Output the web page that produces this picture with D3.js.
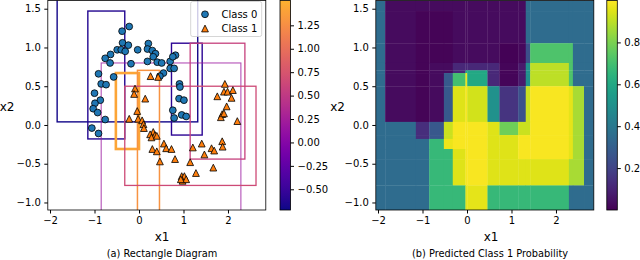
<!DOCTYPE html>
<html>
<head>
<meta charset="utf-8">
<script src="https://cdn.jsdelivr.net/npm/d3@7"></script>
<style>
  body { margin: 0; background: #fff; }
  svg text { font-family: "DejaVu Sans", sans-serif; fill: #000; }
</style>
</head>
<body>
<div id="chart"></div>
<script>
// scatter points
var class0X = [-0.22, -0.38, -0.37, -0.49, -0.40, -0.31, -0.24, -0.64, -0.76, -0.65, -0.03, 0.21, 0.19, 0.30, 0.37,
               0.19, -0.18, -0.91, -0.57, -0.85, -0.74, -1.00, -0.87, -0.99, -1.03, -0.93, -0.76, -1.06, -0.91,
               0.32, 0.41, 0.51, 0.70, 0.82, 0.76, 0.70, 0.79, 0.55, 0.47, 0.91, 0.92, 0.90, 1.01, 0.76, 0.96, 1.06, 0.79];
var class0Y = [1.27, 1.21, 1.06, 0.97, 0.97, 0.95, 1.03, 0.91, 0.86, 0.80, 0.97, 1.05, 0.98, 0.96, 0.92,
               0.82, 0.79, 0.66, 0.62, 0.53, 0.52, 0.41, 0.32, 0.28, 0.21, 0.16, 0.07, -0.04, -0.11,
               0.88, 0.81, 0.80, 0.82, 0.90, 0.88, 0.73, 0.73, 0.67, 0.63, 0.53, 0.49, 0.34, 0.32, 0.19, 0.13, 0.11, 0.09];
var class1X = [0.26, 0.43, -0.09, -0.11, 0.14, -0.22, -0.02, 0.07, 0.10, 0.11, 0.32, 0.25, 0.36, 0.28, 0.40, 0.30,
               0.40, 0.47, 0.56, 0.61, 0.73, 0.81, 1.15, 1.28, 1.21, 1.41, 1.47, 1.63, 1.69, 1.87, 1.88, 1.67,
               0.96, 1.02, 0.98, 1.06, 0.94, 1.93, 1.76, 1.91, 1.99, 2.11, 2.08, 1.97, 1.87, 1.84, 1.91, 2.21, -0.04];
var class1Y = [0.63, 0.62, 0.47, 0.40, 0.34, 0.08, 0.08, 0.06, 0.01, -0.04, -0.09, -0.12, -0.13, -0.16, -0.14, -0.31,
               -0.34, -0.47, -0.24, -0.30, -0.31, -0.44, -0.48, -0.62, -0.29, -0.24, -0.38, -0.30, -0.33, -0.21, -0.28, -0.55,
               -0.66, -0.66, -0.72, -0.70, -0.70, 0.53, 0.37, 0.43, 0.43, 0.45, 0.35, 0.24, 0.14, 0.10, 0.15, 0.05, 0.18];

// rectangles of the left panel (data coords) and their colour value
var rectNames = ["A", "B", "N", "L", "O", "K", "P", "Q"];
var rectX0 = [-1.84, -1.15, 0.73, -0.85, -0.52, -0.035, -0.32, 1.15];
var rectX1 = [1.32, -0.32, 1.42, 2.29, 0.0, 0.46, 2.63, 2.38];
var rectY0 = [0.04, -0.18, -0.13, -1.3, -0.31, -1.3, -0.78, -0.44];
var rectY1 = [1.8, 1.47, 1.055, 0.80, 0.67, 0.705, 0.50, 1.055];
var rectValue = [-0.69, -0.63, -0.58, 0.17, 1.42, 1.28, 0.65, 0.57];

// probability map of the right panel: cell edges and values
var gridX = [-2.05, -1.84, -1.15, -0.85, -0.52, -0.32, -0.035, 0.005, 0.46, 0.73, 1.15, 1.32, 1.42, 2.29, 2.38, 2.63, 2.85];
var gridY = [1.606, 1.47, 1.055, 0.80, 0.705, 0.67, 0.50, 0.04, -0.13, -0.18, -0.31, -0.44, -0.78, -1.097];
var probGrid = [
  [.35,.03,.03,.03,.03,.03,.03,.03,.03,.03,.03,.35,.35,.35,.35,.35],
  [.35,.03,.01,.01,.01,.03,.03,.03,.03,.03,.03,.35,.35,.35,.35,.35],
  [.35,.03,.01,.01,.01,.03,.03,.03,.03,.005,.02,.24,.72,.72,.35,.35],
  [.35,.03,.01,.03,.03,.11,.11,.11,.11,.015,.07,.5,.9,.72,.35,.35],
  [.35,.03,.01,.03,.03,.11,.6,.6,.11,.015,.07,.5,.9,.72,.35,.35],
  [.35,.03,.01,.03,.28,.7,.97,.6,.11,.015,.07,.5,.9,.72,.35,.35],
  [.35,.03,.01,.03,.28,.95,.99,.93,.5,.15,.25,.92,.99,.96,.87,.35],
  [.35,.35,.13,.27,.92,.99,.99,.99,.95,.78,.92,.92,.99,.96,.87,.35],
  [.35,.35,.13,.27,.92,.99,.99,.99,.95,.95,.99,.99,.99,.96,.87,.35],
  [.35,.35,.35,.67,.97,.99,.99,.99,.95,.95,.99,.99,.99,.96,.87,.35],
  [.35,.35,.35,.67,.67,.95,.99,.99,.95,.95,.99,.99,.99,.96,.87,.35],
  [.35,.35,.35,.67,.67,.95,.99,.99,.95,.95,.95,.95,.95,.87,.87,.35],
  [.35,.35,.35,.67,.67,.67,.96,.96,.67,.67,.67,.67,.67,.35,.35,.35]
];

// ticks
var xTicks = [-2, -1, 0, 1, 2];
var yTicks = [-1.0, -0.5, 0.0, 0.5, 1.0, 1.5];
var plasmaTicks = [-0.5, -0.25, 0, 0.25, 0.5, 0.75, 1.0, 1.25];
var plasmaRange = [-0.721, 1.515];
var viridisTicks = [0.2, 0.4, 0.6, 0.8];

var W = 640, H = 260;
var plotTop = 0.5, plotBottom = 210;

var svg = d3.select("#chart").append("svg")
    .attr("width", W).attr("height", H);

var y = d3.scaleLinear().domain([-1.097, 1.606]).range([plotBottom, plotTop]);
var xL = d3.scaleLinear().domain([-2.05, 2.85]).range([47.8, 265.8]);
var xR = d3.scaleLinear().domain([-2.05, 2.85]).range([375.8, 593.8]);

// the rectangle colormap only runs up to the orange part of plasma
var plasmaCut = function (t) { return d3.interpolatePlasma(t * 0.83); };
var plasma = d3.scaleSequential(plasmaCut).domain(plasmaRange);
var viridis = d3.scaleSequential(d3.interpolateViridis).domain([0, 1]);

// style of each rectangle outline
var rectStyle = {
    A: { w: 1.4, o: 1 }, B: { w: 1.4, o: 1 }, N: { w: 1.4, o: 1 },
    L: { w: 1.1, o: 0.75 }, O: { w: 2.6, o: 1 }, K: { w: 1.5, o: 1 },
    P: { w: 1.3, o: 1 }, Q: { w: 1.3, o: 1 }
};

function addClip(id, x) {
    svg.append("clipPath").attr("id", id).append("rect")
        .attr("x", x.range()[0]).attr("y", plotTop)
        .attr("width", x.range()[1] - x.range()[0]).attr("height", plotBottom - plotTop);
}
addClip("clipL", xL);
addClip("clipR", xR);

function drawAxes(x, labelX, labelY2) {
    svg.append("g")
        .attr("transform", "translate(0," + plotBottom + ")")
        .call(d3.axisBottom(x).tickValues(xTicks).tickFormat(d3.format("d")).tickSize(3.5).tickPadding(3.5))
        .call(function (g) { g.select(".domain").remove(); })
        .attr("font-size", 10).attr("font-family", "DejaVu Sans");

    svg.append("g")
        .attr("transform", "translate(" + x.range()[0] + ",0)")
        .call(d3.axisLeft(y).tickValues(yTicks).tickFormat(d3.format(".1f")).tickSize(3.5).tickPadding(3.5))
        .call(function (g) { g.select(".domain").remove(); })
        .attr("font-size", 10).attr("font-family", "DejaVu Sans");

    // spines
    svg.append("rect")
        .attr("x", x.range()[0]).attr("y", plotTop)
        .attr("width", x.range()[1] - x.range()[0]).attr("height", plotBottom - plotTop)
        .attr("fill", "none").attr("stroke", "#000").attr("stroke-width", 0.8);

    svg.append("text").attr("x", labelX).attr("y", 241)
        .attr("text-anchor", "middle").attr("font-size", 12).text("x1");
    svg.append("text").attr("x", labelY2).attr("y", 111)
        .attr("text-anchor", "middle").attr("font-size", 12).text("x2");
}

function drawColorbar(x0, scale, interp, ticks, fmt, id) {
    var grad = svg.append("defs").append("linearGradient").attr("id", id)
        .attr("x1", 0).attr("y1", 1).attr("x2", 0).attr("y2", 0);
    d3.range(0, 1.0001, 0.05).forEach(function (t) {
        grad.append("stop").attr("offset", t).attr("stop-color", interp(t));
    });
    svg.append("rect").attr("x", x0).attr("y", plotTop)
        .attr("width", 10.5).attr("height", plotBottom - plotTop)
        .attr("fill", "url(#" + id + ")")
        .attr("stroke", "#000").attr("stroke-width", 0.8);
    svg.append("g")
        .attr("transform", "translate(" + (x0 + 10.5) + ",0)")
        .call(d3.axisRight(scale).tickValues(ticks).tickFormat(fmt).tickSize(3.5).tickPadding(3.5))
        .call(function (g) { g.select(".domain").remove(); })
        .attr("font-size", 10).attr("font-family", "DejaVu Sans");
}

// ---- left panel: rectangle diagram ----
var left = svg.append("g").attr("clip-path", "url(#clipL)");

left.selectAll(".box")
    .data(rectNames)
    .enter().append("rect")
    .attr("class", "box")
    .attr("x", function (d, i) { return xL(rectX0[i]); })
    .attr("y", function (d, i) { return y(rectY1[i]); })
    .attr("width", function (d, i) { return xL(rectX1[i]) - xL(rectX0[i]); })
    .attr("height", function (d, i) { return y(rectY0[i]) - y(rectY1[i]); })
    .attr("fill", "none")
    .attr("stroke", function (d, i) { return plasma(rectValue[i]); })
    .attr("stroke-width", function (d) { return rectStyle[d].w; })
    .attr("stroke-opacity", function (d) { return rectStyle[d].o; });

var tri = "M0,-3.4L3.4,3.4L-3.4,3.4Z";

left.selectAll(".c0")
    .data(class0X)
    .enter().append("circle")
    .attr("class", "c0")
    .attr("cx", function (d) { return xL(d); })
    .attr("cy", function (d, i) { return y(class0Y[i]); })
    .attr("r", 3.4)
    .attr("fill", "#1f77b4").attr("stroke", "#000").attr("stroke-width", 0.8);

left.selectAll(".c1")
    .data(class1X)
    .enter().append("path")
    .attr("class", "c1")
    .attr("d", tri)
    .attr("transform", function (d, i) { return "translate(" + xL(d) + "," + y(class1Y[i]) + ")"; })
    .attr("fill", "#ff7f0e").attr("stroke", "#000").attr("stroke-width", 0.8);

drawAxes(xL, 162, 7);

// legend
var lg = svg.append("g");
lg.append("rect").attr("x", 190.7).attr("y", 1.5).attr("width", 71).attr("height", 35)
    .attr("rx", 2).attr("fill", "#fff").attr("fill-opacity", 0.8)
    .attr("stroke", "#ccc").attr("stroke-width", 0.8);
lg.append("circle").attr("cx", 205).attr("cy", 14.3).attr("r", 3.4)
    .attr("fill", "#1f77b4").attr("stroke", "#000").attr("stroke-width", 0.8);
lg.append("path").attr("d", tri).attr("transform", "translate(205,28.5)")
    .attr("fill", "#ff7f0e").attr("stroke", "#000").attr("stroke-width", 0.8);
lg.append("text").attr("x", 221.5).attr("y", 17.8).attr("font-size", 10).text("Class 0");
lg.append("text").attr("x", 221.5).attr("y", 32).attr("font-size", 10).text("Class 1");

drawColorbar(280, d3.scaleLinear().domain(plasmaRange).range([plotBottom, plotTop]),
    plasmaCut, plasmaTicks, d3.format(".2f"), "gradPlasma");

// ---- right panel: predicted probability ----
var right = svg.append("g").attr("clip-path", "url(#clipR)");
var cells = [];
probGrid.forEach(function (row, i) {
    row.forEach(function (v, j) { cells.push({ i: i, j: j, v: v }); });
});
right.selectAll(".cell")
    .data(cells)
    .enter().append("rect")
    .attr("class", "cell")
    .attr("x", function (d) { return xR(gridX[d.j]); })
    .attr("y", function (d) { return y(gridY[d.i]); })
    .attr("width", function (d) { return xR(gridX[d.j + 1]) - xR(gridX[d.j]) + 0.3; })
    .attr("height", function (d) { return y(gridY[d.i + 1]) - y(gridY[d.i]) + 0.3; })
    .attr("fill", function (d) { return viridis(d.v); });

drawAxes(xR, 491, 337.5);

drawColorbar(606.8, d3.scaleLinear().domain([0, 1]).range([plotBottom, plotTop]),
    d3.interpolateViridis, viridisTicks, d3.format(".1f"), "gradViridis");

// captions
svg.append("text").attr("x", 162).attr("y", 257).attr("text-anchor", "middle")
    .attr("font-size", 9.8).text("(a)  Rectangle Diagram");
svg.append("text").attr("x", 490).attr("y", 257).attr("text-anchor", "middle")
    .attr("font-size", 9.8).text("(b) Predicted Class 1 Probability");
</script>
</body>
</html>
